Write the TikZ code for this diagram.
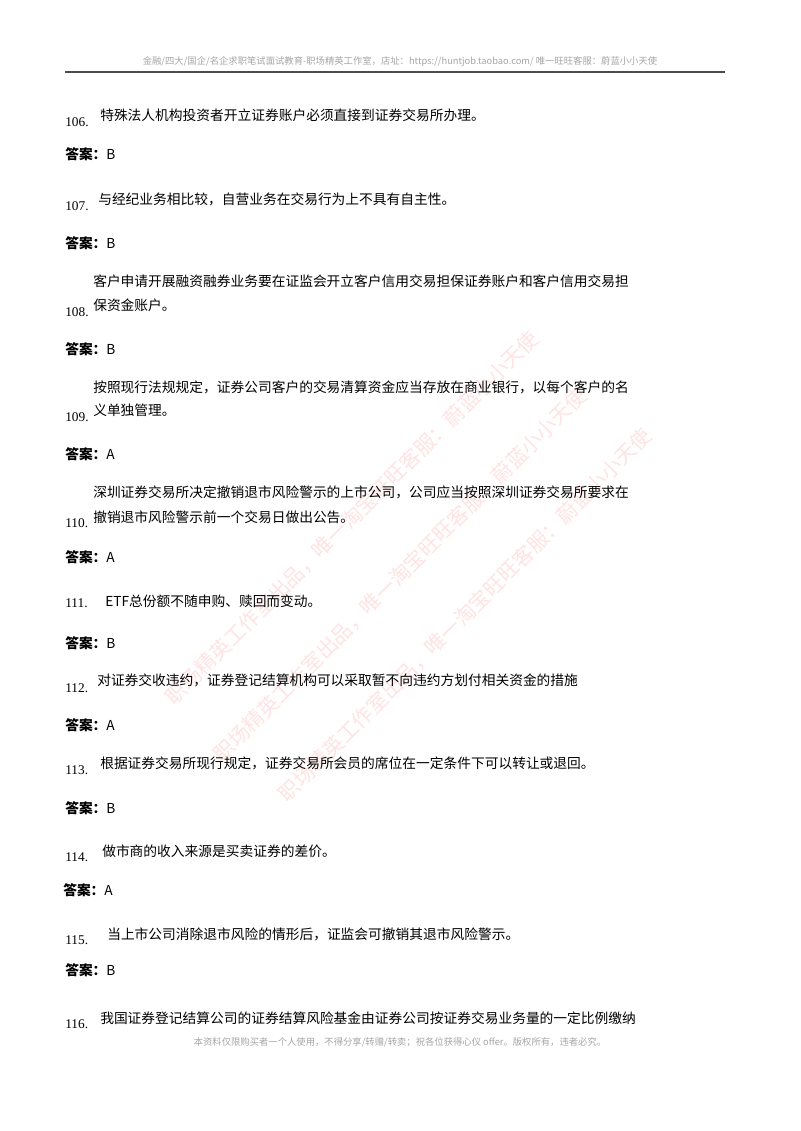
\documentclass[tikz,border=0pt]{standalone}
\usepackage{fontspec}
\newfontfamily\cjk{Noto Sans CJK SC}
\setmainfont{Liberation Serif}
\begin{document}
\begin{tikzpicture}[x=0.75pt,y=-0.75pt,
  q/.style={anchor=base west,inner sep=0pt,font=\cjk\fontsize{10.3}{12}\selectfont},
  num/.style={anchor=base west,inner sep=0pt,font=\fontsize{10}{12}\selectfont},
  ans/.style={anchor=base west,inner sep=0pt,font=\cjk\fontsize{10.3}{12}\selectfont},
  wm/.style={rotate=45,inner sep=0pt,text=red!50,opacity=0.22,font=\cjk\fontsize{15.5}{16}\selectfont},
  gray/.style={inner sep=0pt,text=black!35,font=\cjk\fontsize{7}{8}\selectfont}]
\useasboundingbox (0,0) rectangle (800,1131);
\fill[white] (0,0) rectangle (800,1131);
\node[gray] (hd) at (400,62) {金融/四大/国企/名企求职笔试面试教育-职场精英工作室，店址：https://huntjob.taobao.com/ 唯一旺旺客服：蔚蓝小小天使};
\draw[black!70,line width=1pt] (65,72) -- (725,72);
\node[gray] (ft) at (400,1042) {本资料仅限购买者一个人使用，不得分享/转赠/转卖；祝各位获得心仪 offer。版权所有，违者必究。};
% watermarks
\node[wm] (w1) at (352,518) {职场精英工作室出品，唯一淘宝旺旺客服：蔚蓝小小天使};
\node[wm] (w2) at (400,575) {职场精英工作室出品，唯一淘宝旺旺客服：蔚蓝小小天使};
\node[wm] (w3) at (465,615) {职场精英工作室出品，唯一淘宝旺旺客服：蔚蓝小小天使};
% questions
\node[num] (n106) at (65,126) {106.};
\node[q] (t106) at (100,120) {特殊法人机构投资者开立证券账户必须直接到证券交易所办理。};
\node[ans] (a106) at (65,159) {\textbf{答案：}B};
\node[num] (n107) at (65,210) {107.};
\node[q] (t107) at (98,204) {与经纪业务相比较，自营业务在交易行为上不具有自主性。};
\node[ans] (a107) at (65,248) {\textbf{答案：}B};
\node[q] (t108a) at (93,286) {客户申请开展融资融券业务要在证监会开立客户信用交易担保证券账户和客户信用交易担};
\node[num] (n108) at (65,316) {108.};
\node[q] (t108b) at (93,310) {保资金账户。};
\node[ans] (a108) at (65,354) {\textbf{答案：}B};
\node[q] (t109a) at (93,392) {按照现行法规规定，证券公司客户的交易清算资金应当存放在商业银行，以每个客户的名};
\node[num] (n109) at (65,421) {109.};
\node[q] (t109b) at (93,415) {义单独管理。};
\node[ans] (a109) at (65,459) {\textbf{答案：}A};
\node[q] (t110a) at (93,497) {深圳证券交易所决定撤销退市风险警示的上市公司，公司应当按照深圳证券交易所要求在};
\node[num] (n110) at (65,527) {110.};
\node[q] (t110b) at (93,522) {撤销退市风险警示前一个交易日做出公告。};
\node[ans] (a110) at (65,562) {\textbf{答案：}A};
\node[num] (n111) at (65,607) {111.};
\node[q] (t111) at (105,606) {ETF总份额不随申购、赎回而变动。};
\node[ans] (a111) at (65,648) {\textbf{答案：}B};
\node[num] (n112) at (65,692) {112.};
\node[q] (t112) at (97,685) {对证券交收违约，证券登记结算机构可以采取暂不向违约方划付相关资金的措施};
\node[ans] (a112) at (65,730) {\textbf{答案：}A};
\node[num] (n113) at (65,774) {113.};
\node[q] (t113) at (100,768) {根据证券交易所现行规定，证券交易所会员的席位在一定条件下可以转让或退回。};
\node[ans] (a113) at (65,813) {\textbf{答案：}B};
\node[num] (n114) at (65,861) {114.};
\node[q] (t114) at (102,856) {做市商的收入来源是买卖证券的差价。};
\node[ans] (a114) at (63,895) {\textbf{答案：}A};
\node[num] (n115) at (65,944) {115.};
\node[q] (t115) at (107,939) {当上市公司消除退市风险的情形后，证监会可撤销其退市风险警示。};
\node[ans] (a115) at (65,975) {\textbf{答案：}B};
\node[num] (n116) at (65,1028) {116.};
\node[q] (t116) at (100,1023) {我国证券登记结算公司的证券结算风险基金由证券公司按证券交易业务量的一定比例缴纳};
\end{tikzpicture}
\end{document}
